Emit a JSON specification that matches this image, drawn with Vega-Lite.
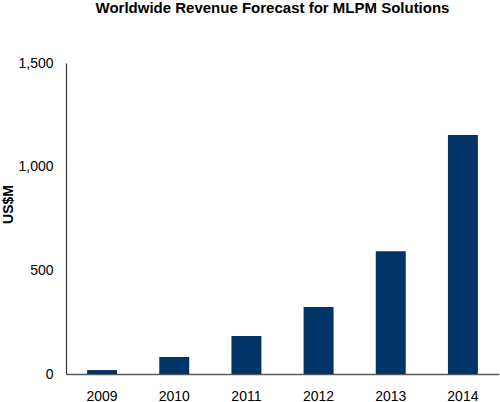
{
  "$schema": "https://vega.github.io/schema/vega-lite/v6.json",
  "autosize": "none",
  "width": 433,
  "height": 311,
  "padding": {"left": 66, "top": 63, "right": 1, "bottom": 28},
  "background": "white",
  "title": {
    "text": "Worldwide Revenue Forecast for MLPM Solutions",
    "font": "Liberation Sans",
    "fontSize": 15,
    "fontWeight": "bold",
    "color": "#000000",
    "anchor": "middle",
    "dx": -10,
    "offset": 40
  },
  "config": {
    "view": {"stroke": null},
    "axis": {"labelFont": "Liberation Sans", "titleFont": "Liberation Sans", "grid": false}
  },
  "data": {
    "values": [
      {"year": "2009", "revenue": 19},
      {"year": "2010", "revenue": 82},
      {"year": "2011", "revenue": 183},
      {"year": "2012", "revenue": 323},
      {"year": "2013", "revenue": 592},
      {"year": "2014", "revenue": 1153}
    ]
  },
  "mark": {"type": "bar", "color": "#003366"},
  "encoding": {
    "x": {
      "field": "year",
      "type": "ordinal",
      "scale": {"paddingInner": 0.585, "paddingOuter": 0.2925},
      "axis": {
        "title": null,
        "labelAngle": 0,
        "labelFontSize": 14,
        "labelColor": "#000000",
        "ticks": false,
        "labelPadding": 15,
        "domainColor": "#5a5a5a",
        "domainWidth": 1.5
      }
    },
    "y": {
      "field": "revenue",
      "type": "quantitative",
      "scale": {"domain": [0, 1500], "nice": false},
      "axis": {
        "title": "US$M",
        "titleFontSize": 14,
        "titleFontWeight": "bold",
        "titleColor": "#000000",
        "titleX": -58,
        "titleY": 141,
        "titleAlign": "center",
        "titleBaseline": "middle",
        "values": [0, 500, 1000, 1500],
        "format": ",d",
        "labelFontSize": 14,
        "labelColor": "#000000",
        "ticks": false,
        "labelPadding": 13,
        "domainColor": "#3a2e2a",
        "domainWidth": 1.2
      }
    }
  }
}
